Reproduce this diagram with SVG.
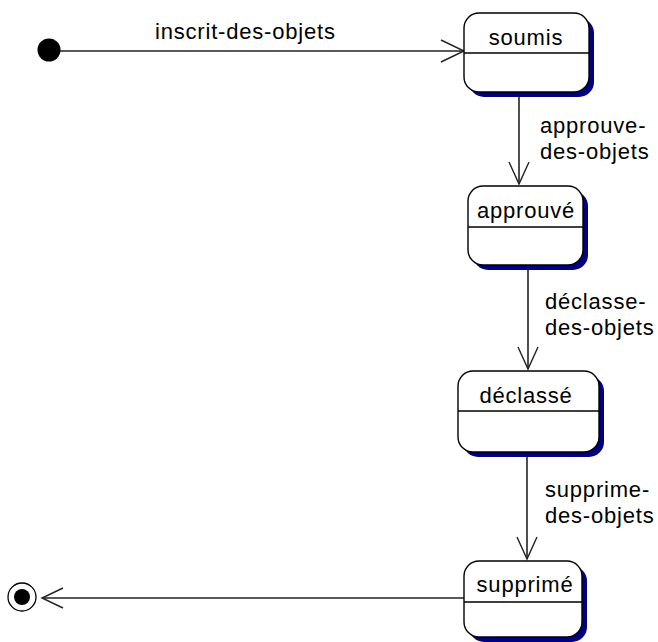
<svg xmlns="http://www.w3.org/2000/svg" width="658" height="642" viewBox="0 0 658 642">
  <defs>
    <style>
      .label { font-family: "Liberation Sans", Arial, sans-serif; font-size: 22px; letter-spacing: 0.8px; fill: #000; }
      .box { fill: #fff; stroke: #000; stroke-width: 1.4; }
      .shadow { fill: #000080; }
      .divider { stroke: #000; stroke-width: 1.4; }
      .edge { fill: none; stroke: #222; stroke-width: 1.6; }
      .head { fill: none; stroke: #222; stroke-width: 1.4; stroke-linejoin: miter; }
    </style>
  </defs>
  <rect width="658" height="642" fill="#fff"/>

  <!-- transitions -->
  <g id="connectors">
    <!-- initial -> soumis -->
    <line class="edge" x1="60" y1="51" x2="464" y2="51"/>
    <polyline class="head" points="441,40 464,51 441,62"/>
    <text class="label" x="155" y="39">inscrit-des-objets</text>

    <!-- soumis -> approuvé -->
    <line class="edge" x1="519" y1="92" x2="519" y2="184"/>
    <polyline class="head" points="509,162 519,184 529,162"/>
    <text class="label" x="540" y="133">approuve-</text>
    <text class="label" x="540" y="159">des-objets</text>

    <!-- approuvé -> déclassé -->
    <line class="edge" x1="528" y1="266" x2="528" y2="369"/>
    <polyline class="head" points="518,347 528,369 538,347"/>
    <text class="label" x="545" y="309">déclasse-</text>
    <text class="label" x="545" y="335">des-objets</text>

    <!-- déclassé -> supprimé -->
    <line class="edge" x1="527" y1="452" x2="527" y2="559"/>
    <polyline class="head" points="517,537 527,559 537,537"/>
    <text class="label" x="545" y="497">supprime-</text>
    <text class="label" x="545" y="523">des-objets</text>

    <!-- supprimé -> final -->
    <line class="edge" x1="464" y1="598" x2="42" y2="598"/>
    <polyline class="head" points="63,588 42,598 63,608"/>
  </g>

  <!-- initial pseudo-state -->
  <g id="initial">
    <circle cx="49" cy="50" r="11.5" fill="#000"/>
  </g>

  <!-- states -->
  <g id="soumis">
    <rect class="shadow" x="469" y="18" width="125" height="79" rx="15"/>
    <rect class="box" x="464" y="13" width="125" height="79" rx="15"/>
    <line class="divider" x1="464" y1="53" x2="589" y2="53"/>
    <text class="label" x="526" y="45" text-anchor="middle">soumis</text>
  </g>

  <g id="approuve">
    <rect class="shadow" x="473" y="191" width="115" height="79" rx="15"/>
    <rect class="box" x="468" y="186" width="115" height="79" rx="15"/>
    <line class="divider" x1="468" y1="227" x2="583" y2="227"/>
    <text class="label" x="526" y="218" text-anchor="middle">approuvé</text>
  </g>

  <g id="declasse">
    <rect class="shadow" x="463" y="376" width="141" height="81" rx="15"/>
    <rect class="box" x="458" y="371" width="141" height="81" rx="15"/>
    <line class="divider" x1="458" y1="411" x2="599" y2="411"/>
    <text class="label" x="526" y="403" text-anchor="middle">déclassé</text>
  </g>

  <g id="supprime">
    <rect class="shadow" x="469" y="566" width="118" height="76" rx="15"/>
    <rect class="box" x="464" y="561" width="118" height="76" rx="15"/>
    <line class="divider" x1="464" y1="602" x2="582" y2="602"/>
    <text class="label" x="525" y="592" text-anchor="middle">supprimé</text>
  </g>

  <!-- final pseudo-state -->
  <g id="final">
    <circle cx="22" cy="597" r="14" fill="#fff" stroke="#000" stroke-width="1.3"/>
    <circle cx="22" cy="597" r="8" fill="#000"/>
  </g>
</svg>
